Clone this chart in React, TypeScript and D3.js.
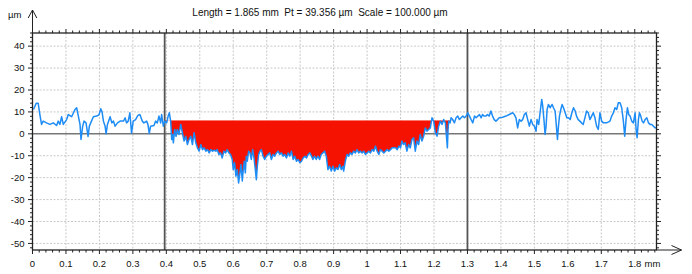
import * as d3 from "d3";

// profile readings, [position mm, height µm]
const profileLeft: [number, number][] = [
  [0.003, 11.1], [0.011, 13.9], [0.017, 13.9], [0.022, 8.8], [0.027, 4.3], [0.032, 5.8], [0.042, 5.0], [0.052, 4.3],
  [0.062, 5.0], [0.072, 3.8], [0.077, 5.8], [0.082, 4.3], [0.087, 7.8], [0.092, 4.3], [0.102, 6.5], [0.107, 8.8],
  [0.117, 7.8], [0.127, 11.1], [0.132, 11.9], [0.137, 8.1], [0.142, 4.3], [0.145, -2.6], [0.15, 3.5], [0.154, 5.8],
  [0.16, 5.0], [0.166, -1.2], [0.17, 3.5], [0.174, 5.0], [0.182, 7.8], [0.192, 8.1], [0.199, 8.8], [0.204, 11.4],
  [0.208, 9.9], [0.212, 5.8], [0.217, 3.5], [0.22, 0.0], [0.224, 4.3], [0.232, 7.8], [0.237, 5.0], [0.242, 5.8],
  [0.247, 3.5], [0.254, 5.0], [0.262, 5.8], [0.272, 5.8], [0.277, 7.3], [0.281, 5.0], [0.286, 5.8], [0.291, 9.6],
  [0.296, 0.3], [0.301, 5.8], [0.308, 6.5], [0.315, 8.4], [0.321, 8.8], [0.328, 5.8], [0.333, 5.0], [0.341, 5.8],
  [0.345, 4.3], [0.349, 0.2], [0.353, 3.5], [0.363, 3.8], [0.368, 5.8], [0.373, 5.0], [0.378, 8.1], [0.383, 5.0],
  [0.386, 8.8], [0.391, 3.5], [0.395, 5.8],
];

const profileDefect: [number, number][] = [
  [0.401, 5.0], [0.406, 8.4], [0.409, 9.6], [0.413, 5.8], [0.416, -2.6], [0.419, -0.3], [0.421, -4.1], [0.425, 2.0],
  [0.429, -1.1], [0.433, 2.0], [0.438, -0.3], [0.443, 4.3], [0.448, 0.5], [0.453, -3.3], [0.458, -1.1], [0.463, -4.9],
  [0.468, -2.6], [0.473, -1.1], [0.478, -4.9], [0.483, 0.5], [0.488, -4.1], [0.493, -6.4], [0.498, -7.9], [0.503, -4.9],
  [0.508, -7.2], [0.513, -6.4], [0.518, -7.9], [0.523, -7.2], [0.528, -8.7], [0.533, -7.2], [0.538, -7.9], [0.543, -7.5],
  [0.548, -7.9], [0.552, -7.2], [0.557, -9.4], [0.562, -8.7], [0.567, -11.0], [0.572, -7.9], [0.577, -8.7], [0.582, -7.2],
  [0.587, -8.7], [0.592, -9.4], [0.597, -11.7], [0.6, -16.3], [0.604, -13.2], [0.608, -19.3], [0.612, -16.3], [0.616, -22.4],
  [0.62, -17.8], [0.623, -14.0], [0.627, -21.5], [0.63, -16.3], [0.633, -12.5], [0.636, -17.8], [0.639, -10.2], [0.642, -12.5],
  [0.646, -7.9], [0.65, -8.7], [0.654, -11.7], [0.658, -7.2], [0.662, -11.0], [0.666, -16.3], [0.669, -20.9], [0.672, -14.8],
  [0.676, -9.4], [0.68, -7.9], [0.684, -7.2], [0.689, -10.2], [0.694, -11.7], [0.699, -10.2], [0.704, -9.4], [0.709, -8.7],
  [0.714, -11.7], [0.719, -9.4], [0.724, -10.2], [0.729, -8.7], [0.734, -7.9], [0.739, -9.4], [0.744, -8.7], [0.749, -10.2],
  [0.754, -9.4], [0.759, -11.0], [0.764, -8.7], [0.769, -10.2], [0.774, -7.9], [0.779, -11.7], [0.784, -10.2], [0.789, -12.5],
  [0.794, -11.7], [0.799, -13.2], [0.804, -12.5], [0.809, -11.0], [0.814, -10.2], [0.819, -11.0], [0.824, -9.4], [0.829, -8.7],
  [0.834, -10.2], [0.838, -11.7], [0.843, -10.2], [0.848, -11.7], [0.853, -10.2], [0.858, -11.7], [0.863, -9.4], [0.868, -8.7],
  [0.873, -7.9], [0.878, -10.2], [0.883, -16.3], [0.888, -14.8], [0.893, -17.0], [0.898, -14.8], [0.903, -17.0], [0.908, -15.5],
  [0.913, -16.3], [0.918, -14.0], [0.923, -16.3], [0.928, -14.8], [0.93, -17.0], [0.935, -12.5], [0.94, -9.4], [0.945, -10.2],
  [0.95, -8.7], [0.955, -9.4], [0.96, -7.9], [0.965, -8.7], [0.97, -7.2], [0.975, -8.7], [0.98, -7.9], [0.985, -8.7],
  [0.99, -7.9], [0.995, -9.4], [1.0, -8.7], [1.005, -7.9], [1.01, -8.7], [1.015, -7.2], [1.02, -7.9], [1.025, -5.6],
  [1.03, -7.9], [1.035, -9.4], [1.04, -7.2], [1.045, -7.9], [1.05, -8.7], [1.055, -7.9], [1.06, -7.2], [1.065, -7.9],
  [1.07, -7.2], [1.075, -6.4], [1.085, -6.4], [1.09, -7.2], [1.095, -5.6], [1.1, -6.4], [1.104, -3.3], [1.109, -4.9],
  [1.114, -4.1], [1.119, -7.9], [1.124, -4.9], [1.129, -6.4], [1.134, -2.6], [1.139, -1.8], [1.144, -7.9], [1.149, -3.3],
  [1.154, -4.9], [1.159, -0.3], [1.164, -3.3], [1.169, -1.1], [1.174, 2.7], [1.179, 1.2], [1.184, 2.0], [1.189, 2.7],
  [1.194, 7.3], [1.199, 5.8], [1.204, 0.5], [1.209, -1.1], [1.214, 3.5], [1.219, 5.8], [1.224, 4.3], [1.229, 6.5],
  [1.234, 5.0], [1.24, -6.4], [1.242, 2.0], [1.244, 5.8], [1.248, 5.0], [1.251, 7.3], [1.256, 6.5], [1.261, 5.0],
];

const profileRight: [number, number][] = [
  [1.266, 7.3], [1.271, 8.1], [1.276, 6.5], [1.281, 7.3], [1.286, 8.1], [1.291, 7.3], [1.296, 8.1], [1.301, 9.6],
  [1.306, 8.1], [1.311, 6.5], [1.316, 5.0], [1.321, 8.1], [1.326, 7.3], [1.331, 8.1], [1.336, 8.8], [1.341, 7.3],
  [1.345, 8.8], [1.35, 8.1], [1.355, 8.1], [1.36, 8.8], [1.365, 8.1], [1.37, 10.4], [1.375, 8.1], [1.38, 6.5],
  [1.385, 5.8], [1.39, 6.5], [1.395, 7.3], [1.405, 7.6], [1.415, 8.1], [1.425, 8.8], [1.435, 9.6], [1.44, 8.8],
  [1.445, 7.3], [1.45, 2.7], [1.455, 6.5], [1.46, 5.8], [1.465, 6.5], [1.47, 8.8], [1.475, 9.6], [1.48, 6.5],
  [1.485, 3.5], [1.49, 6.5], [1.495, 4.3], [1.5, 3.5], [1.505, 1.2], [1.508, 6.5], [1.513, 4.3], [1.517, 9.6],
  [1.522, 15.7], [1.525, 12.6], [1.529, 5.8], [1.532, -0.3], [1.535, 3.5], [1.538, 11.1], [1.542, 13.4], [1.547, 11.9],
  [1.553, 13.4], [1.557, 11.9], [1.562, 10.4], [1.565, 5.0], [1.569, -2.6], [1.572, 3.5], [1.575, 8.1], [1.579, 11.1],
  [1.583, 13.4], [1.587, 11.9], [1.592, 9.6], [1.597, 7.3], [1.602, 7.3], [1.607, 6.5], [1.612, 9.6], [1.617, 11.9],
  [1.622, 10.4], [1.626, 8.1], [1.631, 6.5], [1.636, 5.8], [1.641, 5.0], [1.646, 4.3], [1.651, 7.3], [1.656, 10.4],
  [1.661, 9.6], [1.666, 6.5], [1.671, 8.1], [1.676, 9.6], [1.681, 7.3], [1.686, 3.5], [1.691, 2.0], [1.696, 9.6],
  [1.701, 5.8], [1.706, 5.0], [1.716, 5.0], [1.726, 5.8], [1.731, 8.1], [1.736, 9.6], [1.741, 11.9], [1.746, 11.1],
  [1.751, 14.2], [1.756, 14.2], [1.761, 11.9], [1.766, 5.8], [1.77, -1.1], [1.774, 6.5], [1.778, 11.9], [1.782, 8.8],
  [1.786, 8.1], [1.791, 5.8], [1.796, 5.0], [1.801, 9.6], [1.804, 2.0], [1.807, -1.8], [1.811, 6.5], [1.814, 9.6],
  [1.818, 8.1], [1.822, 5.8], [1.826, 5.0], [1.831, 6.5], [1.836, 7.3], [1.841, 5.0], [1.846, 4.3], [1.851, 4.3],
  [1.856, 3.5], [1.861, 2.7], [1.864, 3.0],
];

const xTicks = [0, 0.1, 0.2, 0.3, 0.4, 0.5, 0.6, 0.7, 0.8, 0.9, 1, 1.1, 1.2, 1.3, 1.4, 1.5, 1.6, 1.7, 1.8];
const xTickLabels = ["0", "0.1", "0.2", "0.3", "0.4", "0.5", "0.6", "0.7", "0.8", "0.9", "1", "1.1", "1.2", "1.3", "1.4", "1.5", "1.6", "1.7", "1.8"];
const yTicks = [-50, -40, -30, -20, -10, 0, 10, 20, 30, 40];
const yTickLabels = ["-50", "-40", "-30", "-20", "-10", "0", "10", "20", "30", "40"];
const cursors = [0.395, 1.3];
const fillLevel = 6.2;
const fillFrom = 0.395;
const fillTo = 1.258;
const titleText = "Length = 1.865 mm  Pt = 39.356 µm  Scale = 100.000 µm";

const width = 692;
const height = 274;
const left = 32.5;
const right = 656.5;
const top = 33;
const bottom = 250;
const font = "'Liberation Sans', Arial, Helvetica, sans-serif";

export default function App() {
  const profile = [...profileLeft, ...profileDefect, ...profileRight];

  const x = d3.scaleLinear().domain([0, 1.865]).range([left, right]);
  const y = d3.scaleLinear().domain([-53, 46]).range([bottom, top]);

  const line = d3
    .line<[number, number]>()
    .x((d) => x(d[0]))
    .y((d) => y(d[1]));

  const area = d3
    .area<[number, number]>()
    .x((d) => x(d[0]))
    .y0(y(fillLevel))
    .y1((d) => y(d[1]));

  const xMinor = d3.range(0, 94).map((i) => ({ v: i * 0.02, major: i % 5 === 0 }));
  const yMinor = d3.range(-26, 24).map((i) => ({ v: i * 2, major: i % 5 === 0 }));

  const axisColor = "#222";

  return (
    <svg
      width={width}
      height={height}
      style={{ position: "absolute", left: 0, top: 0, background: "#fff" }}
      fontFamily={font}
    >
      <defs>
        <clipPath id="below-level">
          <rect
            x={x(fillFrom)}
            y={y(fillLevel)}
            width={x(fillTo) - x(fillFrom)}
            height={bottom - y(fillLevel)}
          />
        </clipPath>
      </defs>
      <rect x={0} y={0} width={width} height={height} fill="#fff" />

      {/* dotted grid */}
      <g stroke="#c9c9c9" strokeWidth={1} strokeDasharray="2 1.5">
        {xTicks.slice(1).map((t) => (
          <line key={"gx" + t} x1={x(t)} x2={x(t)} y1={top} y2={bottom} />
        ))}
        {yTicks.filter((t) => t !== 0).map((t) => (
          <line key={"gy" + t} x1={left} x2={right} y1={y(t)} y2={y(t)} />
        ))}
      </g>

      {/* zero line */}
      <line x1={left} x2={right} y1={y(0)} y2={y(0)} stroke="#333" strokeWidth={1} />

      {/* material removed below the reference level */}
      <path d={area(profile) || ""} fill="#f51200" clipPath="url(#below-level)" />

      {/* cursors */}
      {cursors.map((c) => (
        <line key={"c" + c} x1={x(c)} x2={x(c)} y1={top} y2={bottom} stroke="#555" strokeWidth={1.8} />
      ))}

      <path d={line(profile) || ""} fill="none" stroke="#1e8cf5" strokeWidth={1.5} strokeLinejoin="round" />

      {/* frame */}
      <rect x={left} y={top} width={right - left} height={bottom - top} fill="none" stroke={axisColor} strokeWidth={1.3} />

      {/* ticks */}
      <g stroke={axisColor} strokeWidth={1}>
        {xMinor.map((t) => (
          <g key={"tx" + t.v}>
            <line x1={x(t.v)} x2={x(t.v)} y1={top} y2={top - (t.major ? 4 : 2.5)} />
            <line x1={x(t.v)} x2={x(t.v)} y1={bottom} y2={bottom + (t.major ? 4 : 2.5)} />
          </g>
        ))}
        {yMinor.map((t) => (
          <g key={"ty" + t.v}>
            <line x1={left} x2={left - (t.major ? 4.5 : 2.5)} y1={y(t.v)} y2={y(t.v)} />
            <line x1={right} x2={right + (t.major ? 4.5 : 2.5)} y1={y(t.v)} y2={y(t.v)} />
          </g>
        ))}
      </g>

      {/* tick labels */}
      <g fontSize={9.5} fill="#111">
        {xTicks.map((t, i) => (
          <text key={"lx" + t} x={x(t)} y={267} textAnchor="middle">
            {xTickLabels[i]}
          </text>
        ))}
        <text x={644.5} y={267}>mm</text>
        {yTicks.map((t, i) => (
          <text key={"ly" + t} x={24.5} y={y(t) + 3.3} textAnchor="end">
            {yTickLabels[i]}
          </text>
        ))}
        <text x={8} y={17.5}>µm</text>
      </g>

      {/* axis arrows */}
      <g stroke={axisColor} strokeWidth={1} fill="none">
        <line x1={left} x2={left} y1={top} y2={10} />
        <polyline points={`${left - 4.3},18 ${left},10 ${left + 4.3},18`} />
        <line x1={right} x2={681.5} y1={bottom} y2={bottom} />
        <polyline points={`671.5,245.5 681.5,${bottom} 671.5,254.5`} />
      </g>

      <text x={320} y={16} fontSize={10} textAnchor="middle" fill="#111" style={{ whiteSpace: "pre" }}>
        {titleText}
      </text>
    </svg>
  );
}
